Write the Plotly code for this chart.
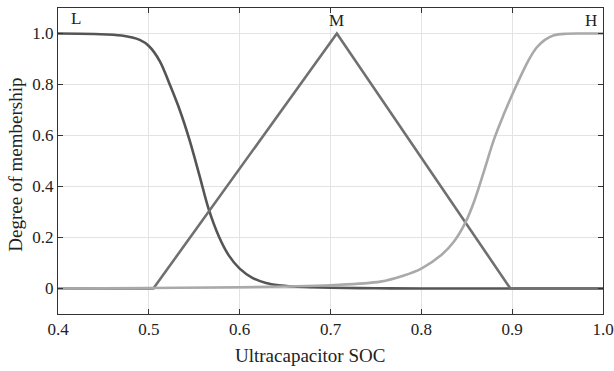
import plotly.graph_objects as go

# Membership curves for ultracapacitor state of charge (sampled values)
soc_low = [0.40, 0.44, 0.47, 0.49, 0.50, 0.512, 0.523, 0.534, 0.545, 0.556, 0.566, 0.577, 0.588,
           0.600, 0.614, 0.629, 0.643, 0.66, 0.68, 0.70, 0.75, 0.80, 1.00]
mu_low = [1.0, 0.998, 0.992, 0.975, 0.951, 0.892, 0.80, 0.70, 0.58, 0.44, 0.31, 0.205, 0.13,
          0.078, 0.042, 0.022, 0.013, 0.008, 0.005, 0.003, 0.001, 0.0, 0.0]

soc_mid = [0.40, 0.505, 0.707, 0.898, 1.00]
mu_mid = [0.0, 0.0, 1.0, 0.0, 0.0]

soc_high = [0.40, 0.50, 0.60, 0.65, 0.70, 0.755, 0.78, 0.80, 0.822, 0.836, 0.849, 0.858, 0.869, 0.880,
            0.891, 0.900, 0.909, 0.918, 0.927, 0.936, 0.946, 0.96, 0.975, 1.00]
mu_high = [0.0, 0.002, 0.005, 0.008, 0.013, 0.027, 0.05, 0.078, 0.131, 0.184, 0.262, 0.34, 0.46, 0.585,
           0.685, 0.76, 0.83, 0.895, 0.945, 0.975, 0.993, 0.999, 1.0, 1.0]

set_names = ["L", "M", "H"]
name_x = [0.42, 0.707, 0.987]
name_y = [1.06, 1.05, 1.05]

x_ticks = [0.4, 0.5, 0.6, 0.7, 0.8, 0.9, 1.0]
x_tick_text = ["0.4", "0.5", "0.6", "0.7", "0.8", "0.9", "1.0"]
y_ticks = [0, 0.2, 0.4, 0.6, 0.8, 1.0]
y_tick_text = ["0", "0.2", "0.4", "0.6", "0.8", "1.0"]

x_label = "Ultracapacitor SOC"
y_label = "Degree of membership"

serif = "Liberation Serif"
ink = "#222222"

fig = go.Figure()
fig.add_trace(go.Scatter(x=soc_low, y=mu_low, mode="lines",
                         line=dict(color="#555555", width=2.6, shape="spline", smoothing=1.0)))
fig.add_trace(go.Scatter(x=soc_mid, y=mu_mid, mode="lines",
                         line=dict(color="#707070", width=2.6)))
fig.add_trace(go.Scatter(x=soc_high, y=mu_high, mode="lines",
                         line=dict(color="#a9a9a9", width=2.6, shape="spline", smoothing=1.0)))

for name, nx, ny in zip(set_names, name_x, name_y):
    fig.add_annotation(x=nx, y=ny, text=name, showarrow=False,
                       font=dict(family=serif, size=17, color=ink))

# Axis titles placed as paper-anchored annotations
fig.add_annotation(xref="paper", yref="paper", x=0.4623, y=0, yshift=-41,
                   xanchor="center", yanchor="middle", text=x_label, showarrow=False,
                   font=dict(family=serif, size=19, color=ink))
fig.add_annotation(xref="paper", yref="paper", x=0, xshift=-42, y=0.488,
                   xanchor="center", yanchor="middle", textangle=-90, text=y_label, showarrow=False,
                   font=dict(family=serif, size=19, color=ink))

axis_common = dict(
    showline=True, linecolor="#333333", linewidth=1, mirror="ticks",
    ticks="inside", ticklen=5, tickcolor="#333333",
    showgrid=True, gridcolor="#e3e3e3", gridwidth=1, zeroline=False,
    tickfont=dict(family=serif, size=17, color=ink), automargin=False,
)

fig.update_xaxes(range=[0.4, 1.0], tickvals=x_ticks, ticktext=x_tick_text, **axis_common)
fig.update_yaxes(range=[-0.1, 1.1], tickvals=y_ticks, ticktext=y_tick_text, **axis_common)

fig.update_layout(
    width=614, height=371,
    margin=dict(l=58, r=11, t=8, b=57),
    plot_bgcolor="white", paper_bgcolor="white",
    showlegend=False,
)

fig.write_html("out.html")
